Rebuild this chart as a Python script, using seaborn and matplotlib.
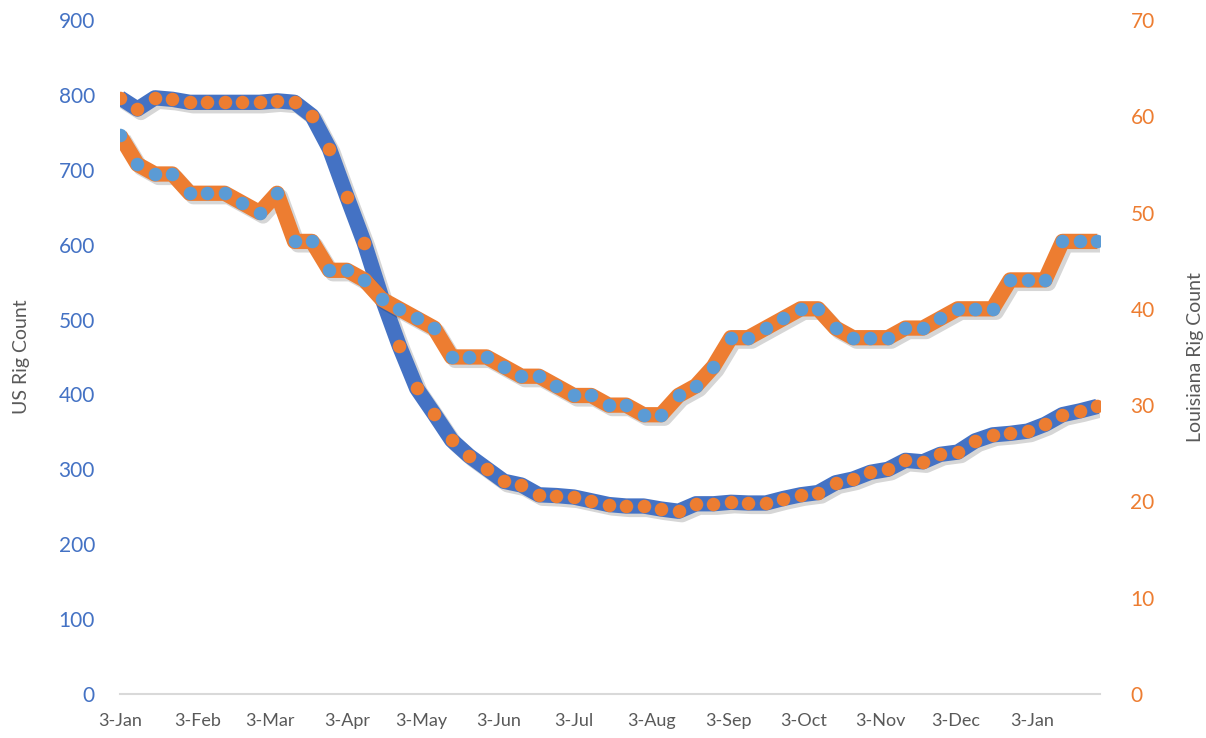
"""US vs Louisiana rig count, weekly, two y axes."""

import matplotlib
matplotlib.use("Agg")
import matplotlib.pyplot as plt
import matplotlib.dates as mdates
import matplotlib.patheffects as pe
import numpy as np
import pandas as pd
import seaborn as sns

# weekly (Friday) rig counts, 3-Jan-2020 .. 29-Jan-2021
weeks = pd.date_range("2020-01-03", periods=57, freq="7D")

us_rigs = [
    796, 781, 796, 794, 790, 790, 790, 790, 790, 792, 790, 772, 728, 664, 602,
    529, 465, 408, 374, 339, 318, 301, 284, 279, 266, 265, 263, 258, 253, 251,
    251, 247, 244, 254, 254, 256, 255, 255, 261, 266, 269, 282, 287, 296, 300,
    312, 310, 320, 323, 338, 346, 348, 351, 360, 373, 378, 384,
]
la_rigs = [
    58, 55, 54, 54, 52, 52, 52, 51, 50, 52, 47, 47, 44, 44, 43,
    41, 40, 39, 38, 35, 35, 35, 34, 33, 33, 32, 31, 31, 30, 30,
    29, 29, 31, 32, 34, 37, 37, 38, 39, 40, 40, 38, 37, 37, 37,
    38, 38, 39, 40, 40, 40, 43, 43, 43, 47, 47, 47,
]
month_ticks = pd.date_range("2020-01-01", "2021-01-01", freq="MS") + pd.Timedelta(days=2)

df = pd.DataFrame({"week": weeks, "us": us_rigs, "la": la_rigs})

BLUE = "#4472C4"
ORANGE = "#ED7D31"
LIGHT_BLUE = "#5B9BD5"
GREY = "#595959"

sns.set_style("white")
plt.rcParams["font.family"] = ["Lato", "DejaVu Sans"]

fig = plt.figure(figsize=(12.06, 7.38), dpi=100)
ax = fig.add_axes([0.0995, 0.0596, 0.8125, 0.9134])
ax2 = ax.twinx()

shadow = [pe.SimpleLineShadow(offset=(2.5, -2.5), shadow_color="k", alpha=0.16),
          pe.Normal()]

# US: thick blue line, orange dots
sns.lineplot(data=df, x="week", y="us", ax=ax, color=BLUE, linewidth=11,
             solid_joinstyle="round", solid_capstyle="butt", path_effects=shadow)
sns.scatterplot(data=df, x="week", y="us", ax=ax, color=ORANGE, s=95,
                linewidth=0, zorder=3)

# Louisiana: thick orange line, light blue dots
sns.lineplot(data=df, x="week", y="la", ax=ax2, color=ORANGE, linewidth=11,
             solid_joinstyle="round", solid_capstyle="butt", path_effects=shadow)
sns.scatterplot(data=df, x="week", y="la", ax=ax2, color=LIGHT_BLUE, s=95,
                linewidth=0, zorder=3)

ax.set_xlim(pd.Timestamp("2020-01-03"), pd.Timestamp("2021-01-30"))
ax.set_ylim(0, 900)
ax.set_yticks(np.arange(0, 901, 100))
ax2.set_ylim(0, 70)
ax2.set_yticks(np.arange(0, 71, 10))

ax.set_xticks(month_ticks)
ax.xaxis.set_major_formatter(
    matplotlib.ticker.FuncFormatter(lambda v, _: (lambda d: f"{d.day}-{d:%b}")(mdates.num2date(v))))

for a in (ax, ax2):
    for s in a.spines.values():
        s.set_visible(False)
ax.spines["bottom"].set_visible(True)
ax.spines["bottom"].set_color("#D9D9D9")
ax.spines["bottom"].set_linewidth(1.5)

ax.tick_params(axis="x", colors="#D9D9D9", length=6, width=1.2, labelcolor=GREY,
               labelsize=13, pad=8)
ax.tick_params(axis="y", length=0, labelcolor=BLUE, labelsize=15, pad=18)
ax2.tick_params(axis="y", length=0, labelcolor=ORANGE, labelsize=15, pad=22)

ax.set_xlabel("")
ax.set_ylabel("US Rig Count", color=GREY, fontsize=14)
ax2.set_ylabel("Louisiana Rig Count", color=GREY, fontsize=14)
ax.yaxis.set_label_coords(-0.092, 0.5)
ax2.yaxis.set_label_coords(1.089, 0.5)

fig.savefig("out.png", dpi=100)
